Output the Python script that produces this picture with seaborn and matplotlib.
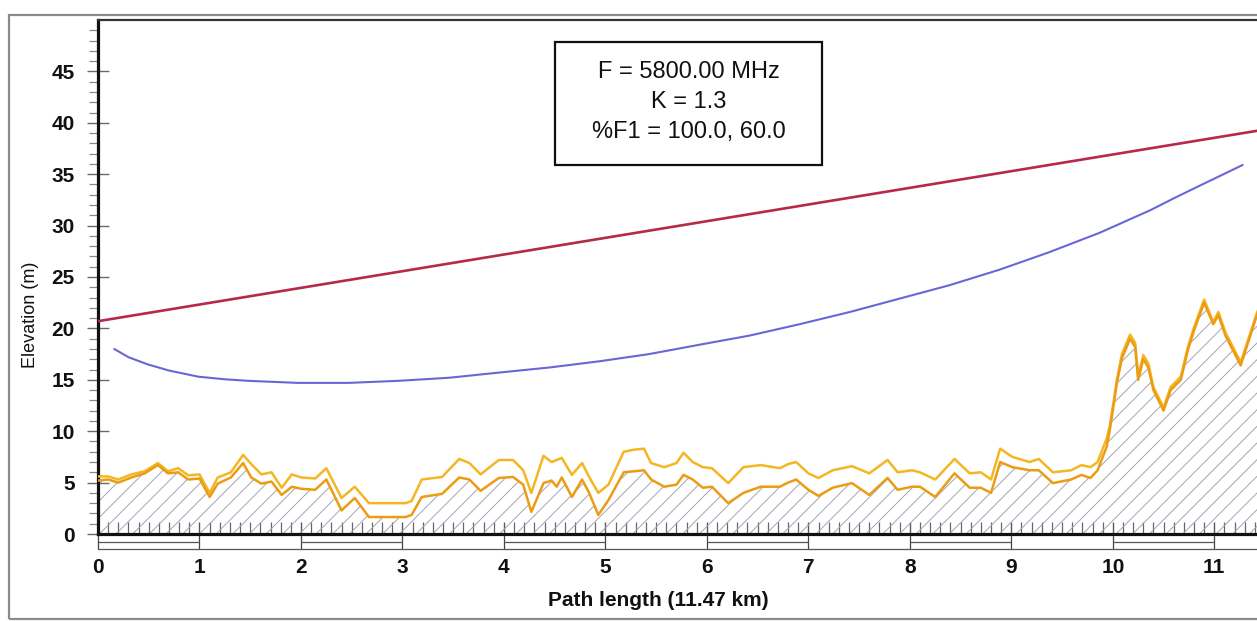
import numpy as np
import matplotlib
matplotlib.use("Agg")
import matplotlib.pyplot as plt
import matplotlib.transforms as mtransforms
from matplotlib.patches import Rectangle
import seaborn as sns

# ---- profile data -------------------------------------------------------
path_km = [0.00, 0.10, 0.20, 0.33, 0.46, 0.59, 0.69, 0.79, 0.89, 1.00,
           1.10, 1.18, 1.31, 1.43, 1.51, 1.61, 1.71, 1.81, 1.91, 2.00,
           2.14, 2.25, 2.40, 2.53, 2.67, 3.03, 3.09, 3.19, 3.39, 3.56,
           3.66, 3.77, 3.95, 4.09, 4.19, 4.27, 4.39, 4.47, 4.52, 4.57,
           4.67, 4.77, 4.84, 4.93, 5.03, 5.18, 5.28, 5.38, 5.45, 5.58,
           5.70, 5.77, 5.86, 5.96, 6.05, 6.21, 6.36, 6.53, 6.72, 6.80,
           6.88, 7.00, 7.10, 7.24, 7.43, 7.60, 7.78, 7.88, 8.02, 8.10,
           8.25, 8.44, 8.59, 8.70, 8.80, 8.89, 9.01, 9.18, 9.27, 9.41,
           9.59, 9.69, 9.78, 9.85, 9.94, 9.97, 10.01, 10.04, 10.09, 10.17,
           10.22, 10.25, 10.30, 10.35, 10.40, 10.50, 10.57, 10.67, 10.74, 10.80,
           10.90, 10.99, 11.04, 11.11, 11.26, 11.42, 11.47]

terrain_m = [5.2, 5.3, 5.0, 5.5, 5.9, 6.7, 5.9, 6.0, 5.3, 5.4,
             3.6, 4.9, 5.5, 6.9, 5.5, 4.9, 5.1, 3.8, 4.6, 4.4,
             4.3, 5.3, 2.3, 3.5, 1.65, 1.65, 1.85, 3.6, 3.9, 5.5,
             5.3, 4.2, 5.45, 5.55, 4.8, 2.15, 4.95, 5.2, 4.6, 5.5,
             3.6, 5.3, 4.0, 1.85, 3.3, 6.0, 6.1, 6.2, 5.3, 4.6,
             4.8, 5.75, 5.3, 4.5, 4.6, 3.0, 4.0, 4.6, 4.6, 5.0,
             5.3, 4.3, 3.7, 4.5, 4.95, 3.8, 5.45, 4.3, 4.6, 4.6,
             3.6, 5.9, 4.5, 4.5, 4.0, 7.0, 6.5, 6.2, 6.2, 4.95,
             5.3, 5.75, 5.45, 6.2, 8.5, 10.1, 12.7, 14.7, 17.1, 19.0,
             18.2, 15.0, 17.0, 16.2, 14.0, 12.0, 14.0, 15.0, 17.9, 19.8,
             22.5, 20.4, 21.3, 19.3, 16.4, 21.3, 22.6]

clutter_m = [5.6, 5.6, 5.3, 5.8, 6.1, 6.9, 6.1, 6.4, 5.7, 5.8,
             4.0, 5.5, 6.0, 7.7, 6.8, 5.8, 6.0, 4.5, 5.8, 5.5,
             5.4, 6.4, 3.5, 4.6, 3.0, 3.0, 3.2, 5.3, 5.55, 7.3,
             6.9, 5.8, 7.2, 7.2, 6.2, 4.0, 7.6, 7.0, 7.2, 7.4,
             5.75, 6.9, 5.55, 4.0, 4.8, 8.0, 8.2, 8.3, 6.9, 6.5,
             6.9, 7.9, 7.0, 6.5, 6.4, 4.95, 6.5, 6.7, 6.4, 6.8,
             7.0, 5.9, 5.45, 6.2, 6.6, 5.9, 7.2, 6.0, 6.2, 6.0,
             5.3, 7.3, 5.9, 6.0, 5.3, 8.3, 7.5, 7.0, 7.3, 6.0,
             6.2, 6.7, 6.5, 7.0, 9.3, 10.5, 13.0, 15.0, 17.5, 19.4,
             18.6, 15.3, 17.4, 16.6, 14.3, 12.3, 14.3, 15.3, 18.2, 20.1,
             22.8, 20.6, 21.6, 19.6, 16.7, 21.5, 22.8]

# line of sight between the two antennas
los_km = [0.0, 11.47]
los_m = [20.7, 39.3]

# lower edge of the Fresnel clearance zone
fresnel_km = [0.16, 0.30, 0.49, 0.70, 0.99, 1.25, 1.48, 1.97, 2.47, 2.96,
              3.46, 3.95, 4.45, 4.94, 5.43, 5.92, 6.42, 6.91, 7.41, 7.90,
              8.39, 8.88, 9.37, 9.87, 10.12, 10.37, 10.61, 10.86, 11.07, 11.28]
fresnel_m = [18.0, 17.2, 16.5, 15.9, 15.3, 15.05, 14.9, 14.7, 14.7, 14.9,
             15.2, 15.7, 16.2, 16.8, 17.5, 18.4, 19.3, 20.4, 21.6, 22.9,
             24.2, 25.7, 27.4, 29.3, 30.4, 31.5, 32.7, 33.9, 34.9, 35.9]

info_lines = ["F = 5800.00 MHz", "K = 1.3", "%F1 = 100.0, 60.0"]
x_ticks = list(range(12))
y_ticks = list(range(0, 50, 5))
path_length_km = 11.47

# ---- figure -------------------------------------------------------------
sns.set_theme(style="white")
plt.rcParams["font.family"] = ["Liberation Sans", "DejaVu Sans"]
plt.rcParams["hatch.linewidth"] = 0.7

W, H = 1257, 621
fig = plt.figure(figsize=(W / 100, H / 100), dpi=100)
fig.patch.set_facecolor("white")

left_px, right_px, top_px, bottom_px = 98, 1262, 20, 534
ax = fig.add_axes([left_px / W, 1 - bottom_px / H,
                   (right_px - left_px) / W, (bottom_px - top_px) / H])
ax.set_facecolor("white")
ax.set_xlim(0, path_length_km)
ax.set_ylim(0, 50)

# hatched ground below the terrain profile
ax.fill_between(path_km, 0, terrain_m, facecolor="none", edgecolor="#a4a2b2",
                hatch="//", linewidth=0, zorder=1)

line_kw = dict(estimator=None, sort=False, solid_joinstyle="round",
               solid_capstyle="round")
sns.lineplot(x=path_km, y=clutter_m, ax=ax, color="#f4b622",
             lw=1.8, zorder=3, **line_kw)
sns.lineplot(x=path_km, y=terrain_m, ax=ax, color="#ec9c12", lw=1.8,
             zorder=4, **line_kw)
sns.lineplot(x=los_km, y=los_m, ax=ax, color="#b52a48", lw=1.9,
             zorder=5, **line_kw)
sns.lineplot(x=fresnel_km, y=fresnel_m, ax=ax, color="#6a66d6", lw=1.5,
             zorder=5, **line_kw)

# spines
for side in ("left", "bottom"):
    ax.spines[side].set_color("#111111")
    ax.spines[side].set_linewidth(2.3)
ax.spines["top"].set_color("#333333")
ax.spines["top"].set_linewidth(1.6)
ax.spines["right"].set_visible(False)

# y axis ticks
ax.set_yticks(y_ticks)
ax.set_yticks(np.arange(0, 50, 1), minor=True)
ax.yaxis.set_tick_params(which="major", direction="inout", length=16, width=1.0,
                         color="#6a6a6a", pad=8.6, left=True)
ax.yaxis.set_tick_params(which="minor", direction="out", length=6.5, width=0.9,
                         color="#8a8a8a", left=True)
for lab in ax.get_yticklabels():
    lab.set_fontsize(15)
    lab.set_fontweight("bold")
    lab.set_color("#111111")

# x axis: km labels and ground ticks every 100 m
ax.set_xticks(x_ticks)
ax.set_xticks(np.arange(0, path_length_km, 0.1), minor=True)
ax.xaxis.set_tick_params(which="major", direction="in", length=9, width=1.0,
                         color="#5e5462", pad=17, bottom=True)
ax.xaxis.set_tick_params(which="minor", direction="in", length=9, width=0.9,
                         color="#6e6272", bottom=True)
for lab in ax.get_xticklabels():
    lab.set_fontsize(15)
    lab.set_fontweight("bold")
    lab.set_color("#111111")
ax.set_xlabel("")
ax.set_ylabel("")

# distance scale bar below the axis
trans = mtransforms.blended_transform_factory(ax.transData, ax.transAxes)
ax_h = bottom_px - top_px
y_top, y_mid, y_bot = -2 / ax_h, -8 / ax_h, -15 / ax_h
for k in x_ticks:
    ax.plot([k, k], [y_top, y_bot], transform=trans, color="#444444",
            lw=0.9, clip_on=False)
ax.plot([0, path_length_km], [y_bot, y_bot], transform=trans, color="#555555",
        lw=0.9, clip_on=False)
for k in x_ticks[::2]:
    ax.plot([k, min(k + 1, path_length_km)], [y_mid, y_mid], transform=trans,
            color="#555555", lw=0.9, clip_on=False)

# axis titles
fig.text(31 / W, 1 - 315 / H, "Elevation (m)", rotation=90, ha="center",
         va="center", fontsize=13, color="#111111")
fig.text(658 / W, 1 - 600 / H, "Path length (11.47 km)", ha="center",
         va="center", fontsize=15, fontweight="bold", color="#111111")

# parameter box
box_l, box_r, box_t, box_b = 555, 822, 42, 165
fig.patches.append(Rectangle((box_l / W, 1 - box_b / H), (box_r - box_l) / W,
                             (box_b - box_t) / H, transform=fig.transFigure,
                             facecolor="white", edgecolor="#111111", lw=1.6,
                             zorder=10))
for i, line in enumerate(info_lines):
    fig.text((box_l + box_r) / 2 / W, 1 - (72 + 30 * i) / H, line,
             ha="center", va="center", fontsize=17, color="#111111", zorder=11)

# outer frame of the figure
fig.patches.append(Rectangle((9 / W, 1 - 619 / H), 1.0, (619 - 15) / H,
                             transform=fig.transFigure, facecolor="none",
                             edgecolor="#8a8a8a", lw=1.6, zorder=0))

fig.savefig("out.png", dpi=100)
